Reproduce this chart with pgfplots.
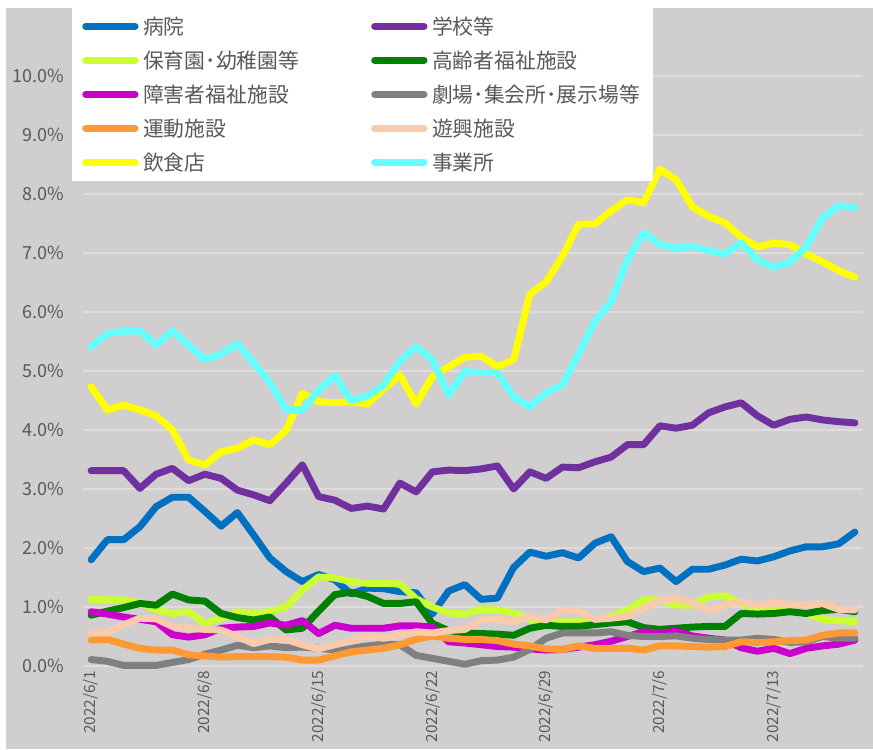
\documentclass[border=0pt]{standalone}
\usepackage{fontspec}
\setmainfont{Noto Sans CJK JP}
\usepackage{pgfplots}
\usepackage{pgfplotstable}
\pgfplotsset{compat=1.18}

\definecolor{bg}{HTML}{D0CECE}
\definecolor{gridc}{HTML}{DEDCDC}
\definecolor{txt}{HTML}{595959}
\definecolor{cA}{HTML}{0070C0}
\definecolor{cB}{HTML}{7030A0}
\definecolor{cC}{HTML}{CCFF33}
\definecolor{cD}{HTML}{008000}
\definecolor{cE}{HTML}{CC00CC}
\definecolor{cF}{HTML}{808080}
\definecolor{cG}{HTML}{FF9933}
\definecolor{cH}{HTML}{F8CBAD}
\definecolor{cI}{HTML}{FFFF00}
\definecolor{cJ}{HTML}{66FFFF}

% day index (0 = 2022/6/1), values in %
\pgfplotstableread{
d  A    B    C    D    E    F    G    H    I    J
0  1.80 3.31 1.13 0.86 0.92 0.11 0.44 0.56 4.73 5.41
1  2.14 3.31 1.12 0.93 0.88 0.08 0.45 0.56 4.34 5.63
2  2.14 3.31 1.12 0.99 0.83 0.01 0.37 0.70 4.42 5.67
3  2.36 3.01 1.07 1.06 0.79 0.01 0.30 0.81 4.34 5.68
4  2.70 3.25 0.95 1.03 0.75 0.01 0.27 0.80 4.24 5.44
5  2.86 3.35 0.89 1.22 0.53 0.06 0.27 0.67 4.00 5.68
6  2.86 3.14 0.92 1.12 0.49 0.11 0.19 0.64 3.49 5.44
7  2.62 3.25 0.72 1.10 0.53 0.20 0.17 0.62 3.41 5.19
8  2.37 3.18 0.81 0.89 0.64 0.27 0.15 0.61 3.63 5.29
9  2.60 2.98 0.92 0.82 0.66 0.35 0.16 0.50 3.69 5.46
10 2.22 2.90 0.89 0.78 0.67 0.31 0.16 0.38 3.83 5.14
11 1.83 2.80 0.92 0.83 0.73 0.34 0.16 0.45 3.75 4.80
12 1.60 3.10 1.00 0.61 0.69 0.31 0.15 0.45 3.99 4.34
13 1.43 3.41 1.29 0.64 0.77 0.32 0.10 0.36 4.62 4.34
14 1.55 2.87 1.51 0.93 0.55 0.30 0.10 0.29 4.48 4.67
15 1.46 2.81 1.49 1.21 0.69 0.27 0.17 0.36 4.46 4.92
16 1.22 2.67 1.43 1.25 0.64 0.30 0.24 0.42 4.48 4.50
17 1.32 2.71 1.40 1.18 0.64 0.34 0.27 0.51 4.44 4.57
18 1.31 2.66 1.40 1.06 0.64 0.37 0.30 0.47 4.69 4.76
19 1.26 3.10 1.39 1.06 0.68 0.36 0.36 0.52 4.93 5.17
20 1.24 2.95 1.14 1.09 0.68 0.18 0.45 0.58 4.44 5.41
21 0.88 3.29 1.00 0.72 0.66 0.13 0.51 0.56 4.90 5.19
22 1.27 3.32 0.90 0.60 0.41 0.08 0.47 0.60 5.07 4.59
23 1.38 3.31 0.88 0.56 0.39 0.03 0.45 0.62 5.23 4.99
24 1.13 3.34 0.96 0.55 0.36 0.09 0.45 0.78 5.25 4.97
25 1.15 3.39 0.95 0.54 0.33 0.10 0.43 0.79 5.07 4.97
26 1.67 3.00 0.90 0.52 0.32 0.15 0.37 0.75 5.19 4.56
27 1.93 3.29 0.79 0.64 0.29 0.28 0.34 0.84 6.30 4.39
28 1.86 3.18 0.72 0.69 0.27 0.47 0.29 0.78 6.51 4.63
29 1.92 3.37 0.75 0.67 0.28 0.56 0.28 0.94 6.94 4.76
30 1.83 3.36 0.75 0.67 0.32 0.56 0.34 0.94 7.49 5.29
31 2.08 3.46 0.75 0.70 0.36 0.56 0.30 0.79 7.49 5.84
32 2.19 3.54 0.84 0.73 0.42 0.58 0.30 0.81 7.71 6.17
33 1.77 3.75 0.95 0.75 0.50 0.52 0.30 0.84 7.90 6.88
34 1.60 3.75 1.12 0.65 0.58 0.50 0.27 0.98 7.85 7.34
35 1.66 4.07 1.12 0.62 0.56 0.50 0.34 1.11 8.42 7.14
36 1.43 4.03 1.03 0.64 0.59 0.51 0.34 1.15 8.24 7.08
37 1.64 4.08 1.03 0.66 0.51 0.47 0.33 1.07 7.78 7.11
38 1.64 4.29 1.17 0.67 0.47 0.45 0.32 0.94 7.62 7.04
39 1.71 4.39 1.19 0.67 0.44 0.44 0.33 1.03 7.51 6.98
40 1.81 4.46 1.06 0.89 0.31 0.44 0.41 1.09 7.27 7.17
41 1.78 4.24 0.98 0.88 0.25 0.47 0.40 1.03 7.10 6.88
42 1.85 4.08 0.95 0.89 0.30 0.45 0.41 1.07 7.17 6.76
43 1.95 4.18 0.92 0.92 0.21 0.40 0.43 1.05 7.14 6.84
44 2.02 4.22 0.89 0.89 0.30 0.41 0.44 1.03 6.98 7.10
45 2.02 4.17 0.79 0.94 0.34 0.50 0.52 1.06 6.85 7.59
46 2.07 4.14 0.77 0.96 0.37 0.47 0.56 0.96 6.70 7.80
47 2.27 4.12 0.75 0.92 0.44 0.47 0.56 0.95 6.59 7.77
}\rates

\begin{document}
\begin{tikzpicture}
% whole chart area (1px = 0.75pt)
\useasboundingbox (-62.25pt,-62.25pt) rectangle (592.5pt,499.5pt);
\fill[white] (-62.25pt,-62.25pt) rectangle (592.5pt,499.5pt);
\fill[bg] (-57.75pt,-62.25pt) rectangle (592.5pt,493.5pt);

\begin{axis}[
    at={(0pt,0pt)}, anchor=south west,
    scale only axis,
    width=585pt, height=493.5pt,
    xmin=-0.5, xmax=47.5,
    ymin=0, ymax=11.15,
    clip=false,
    axis line style={draw=none},
    major tick length=0pt,
    ymajorgrids,
    grid style={gridc, line width=1.3pt},
    ytick={0,1,...,10},
    yticklabels={0.0\%,1.0\%,2.0\%,3.0\%,4.0\%,5.0\%,6.0\%,7.0\%,8.0\%,9.0\%,10.0\%},
    yticklabel style={font=\fontsize{13.5}{15}\selectfont, text=txt, xshift=-11pt},
    xtick={0,7,14,21,28,35,42},
    xticklabels={2022/6/1,2022/6/8,2022/6/15,2022/6/22,2022/6/29,2022/7/6,2022/7/13},
    xticklabel style={font=\fontsize{11.5}{13}\selectfont, text=txt, rotate=90, anchor=east},
    every axis plot/.append style={line width=5.2pt, line cap=round, line join=round, no markers},
    legend columns=2,
    legend cell align=left,
    legend image code/.code={\draw[#1] (0pt,0pt) -- (37pt,0pt);},
    legend style={
        at={(axis description cs:0,1)}, xshift=-8.25pt, anchor=north west,
        fill=white, draw=none,
        inner xsep=7.5pt, inner ysep=6.5pt,
        font=\fontsize{15.6}{17}\selectfont, text=txt,
        row sep=11.3pt,
        nodes={inner xsep=0pt, inner ysep=0pt, text height=13pt, text depth=1.2pt, text width=158pt, align=left},
        /tikz/every odd column/.append style={column sep=3.5pt},
        /tikz/every even column/.append style={column sep=13pt},
    },
]
\addplot[cA] table[x=d, y=A] {\rates};
\addlegendentry{病院}
\addplot[cB] table[x=d, y=B] {\rates};
\addlegendentry{学校等}
\addplot[cC] table[x=d, y=C] {\rates};
\addlegendentry{保育園･幼稚園等}
\addplot[cD] table[x=d, y=D] {\rates};
\addlegendentry{高齢者福祉施設}
\addplot[cE] table[x=d, y=E] {\rates};
\addlegendentry{障害者福祉施設}
\addplot[cF] table[x=d, y=F] {\rates};
\addlegendentry{劇場･集会所･展示場等}
\addplot[cG] table[x=d, y=G] {\rates};
\addlegendentry{運動施設}
\addplot[cH] table[x=d, y=H] {\rates};
\addlegendentry{遊興施設}
\addplot[cI] table[x=d, y=I] {\rates};
\addlegendentry{飲食店}
\addplot[cJ] table[x=d, y=J] {\rates};
\addlegendentry{事業所}
\end{axis}
\end{tikzpicture}
\end{document}
